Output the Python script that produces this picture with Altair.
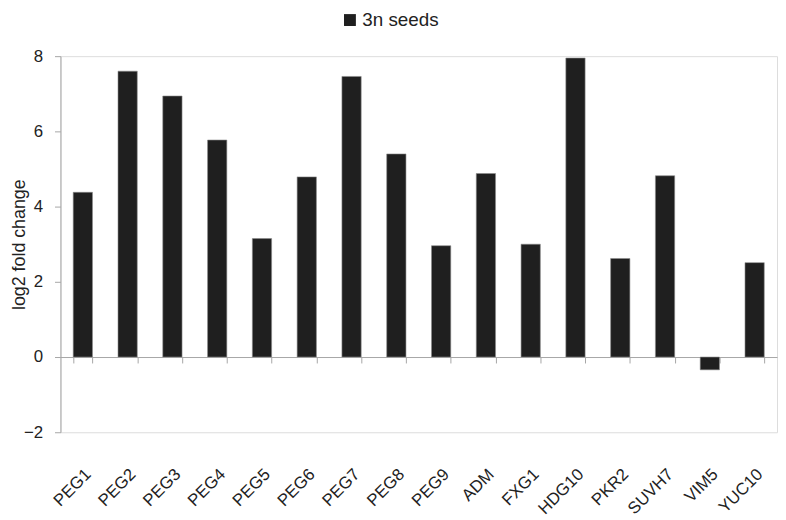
import altair as alt
import pandas as pd

genes = ["PEG1", "PEG2", "PEG3", "PEG4", "PEG5", "PEG6", "PEG7", "PEG8",
         "PEG9", "ADM", "FXG1", "HDG10", "PKR2", "SUVH7", "VIM5", "YUC10"]
values = [4.38, 7.60, 6.94, 5.77, 3.15, 4.79, 7.46, 5.40,
          2.96, 4.88, 3.00, 7.95, 2.62, 4.82, -0.34, 2.51]
series = ["3n seeds"] * len(genes)
y_ticks = [-2, 0, 2, 4, 6, 8]

df = pd.DataFrame({"gene": genes, "value": values, "series": series})

FONT = "Liberation Sans"
GRAY = "#a6a6a6"
TEXT = "#222222"

xscale = alt.Scale(paddingInner=0.57, paddingOuter=0.285)
yscale = alt.Scale(domain=[-2, 8], nice=False, zero=False)

bars = alt.Chart(df).mark_bar(color="#1f1f1f", stroke="#8a8a8a", strokeWidth=0.6).encode(
    x=alt.X("gene:N", sort=genes, scale=xscale,
            axis=alt.Axis(title=None, orient="bottom", labelAngle=-45, domain=False,
                          ticks=False, labelPadding=34, labelFontSize=17,
                          labelFont=FONT, labelColor=TEXT)),
    y=alt.Y("value:Q", scale=yscale,
            axis=alt.Axis(title="log2 fold change", values=y_ticks, grid=False,
                          domainColor=GRAY, tickColor=GRAY, tickSize=6,
                          labelPadding=12, labelFontSize=17, labelFont=FONT,
                          labelColor=TEXT, titleFontSize=18, titleFont=FONT,
                          titleFontWeight="normal", titleColor=TEXT,
                          titleX=-32, titleY=190)),
    color=alt.Color("series:N", scale=alt.Scale(domain=["3n seeds"], range=["#1f1f1f"]),
                    legend=alt.Legend(title=None, orient="none", legendX=283, legendY=-46,
                                      symbolType="square", symbolSize=144,
                                      symbolStrokeWidth=0, labelFontSize=19,
                                      labelFont=FONT, labelColor=TEXT, padding=0,
                                      labelOffset=3)),
)

ticks_layer = alt.Chart(df).mark_bar(opacity=0).encode(
    x=alt.X("gene:N", sort=genes, scale=xscale,
            axis=alt.Axis(title=None, orient="bottom", labels=False, domain=True,
                          domainColor=GRAY, ticks=True, tickColor=GRAY, tickSize=6,
                          tickBand="extent", offset=-76)),
    y=alt.Y("value:Q", scale=yscale),
)

chart = alt.layer(bars, ticks_layer).resolve_axis(x="independent").properties(
    width=724, height=380,
    autosize=alt.AutoSizeParams(type="none"),
    padding={"left": 53, "top": 46, "right": 1, "bottom": 86},
).configure_view(stroke=None).configure(background="white")

chart.save("out.html", embed_options={"renderer": "svg", "actions": False})
